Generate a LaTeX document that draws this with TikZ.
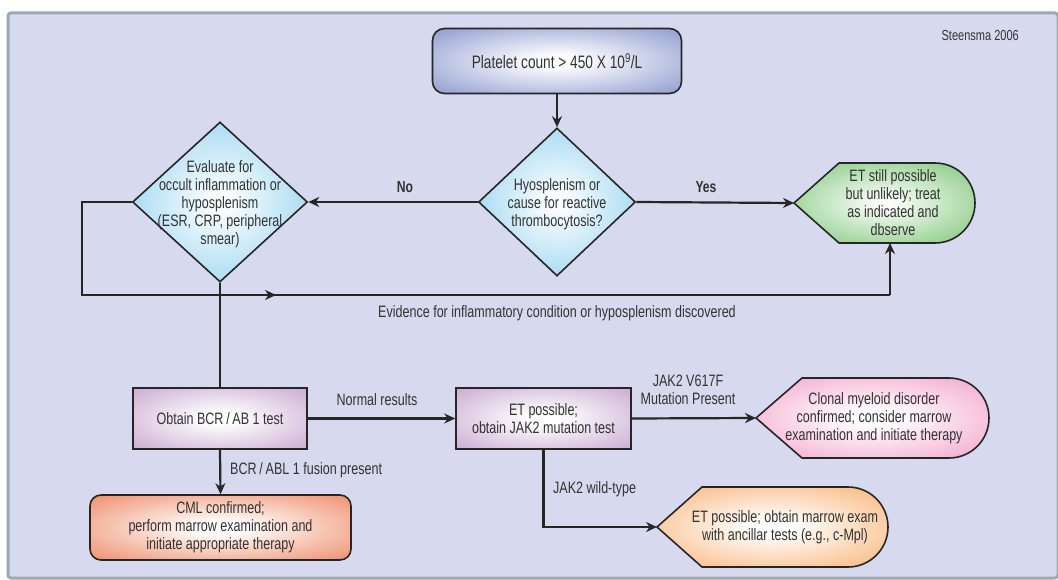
\documentclass[tikz,border=0pt]{standalone}
\usepackage{fontspec}
\setmainfont{Liberation Sans}[FakeStretch=0.76]
\usetikzlibrary{arrows.meta,shapes.geometric}
\definecolor{bg}{HTML}{D7DAEE}
\definecolor{framec}{HTML}{9AAAB0}
\definecolor{cblue}{HTML}{7E8DC8}
\definecolor{ccyan}{HTML}{86CDEE}
\definecolor{cgreen}{HTML}{7CC576}
\definecolor{cpurple}{HTML}{C3A0CB}
\definecolor{cpink}{HTML}{F29CC6}
\definecolor{cred}{HTML}{EE8560}
\definecolor{corange}{HTML}{F8AE6C}
\definecolor{ink}{HTML}{333333}
\pgfdeclareradialshading{gblue}{\pgfpoint{0bp}{0bp}}{color(0bp)=(white);color(4bp)=(white);color(40bp)=(cblue);color(50bp)=(cblue)}
\pgfdeclareradialshading{gcyan}{\pgfpoint{0bp}{0bp}}{color(0bp)=(white);color(4bp)=(white!92!ccyan);color(36bp)=(ccyan);color(50bp)=(ccyan)}
\pgfdeclareradialshading{ggreen}{\pgfpoint{0bp}{0bp}}{color(0bp)=(white);color(4bp)=(white!92!cgreen);color(36bp)=(cgreen);color(50bp)=(cgreen)}
\pgfdeclareradialshading{gpurple}{\pgfpoint{0bp}{0bp}}{color(0bp)=(white);color(4bp)=(white);color(40bp)=(cpurple);color(50bp)=(cpurple)}
\pgfdeclareradialshading{gpink}{\pgfpoint{0bp}{0bp}}{color(0bp)=(white);color(4bp)=(white);color(38bp)=(cpink);color(50bp)=(cpink)}
\pgfdeclareradialshading{gred}{\pgfpoint{0bp}{0bp}}{color(0bp)=(white);color(4bp)=(white);color(38bp)=(cred);color(50bp)=(cred)}
\pgfdeclareradialshading{gorange}{\pgfpoint{0bp}{0bp}}{color(0bp)=(white);color(4bp)=(white);color(38bp)=(corange);color(50bp)=(corange)}
\tikzset{
  txt/.style={text=ink,font=\fontsize{16.5}{18}\selectfont,align=center,inner sep=0pt},
  lbl/.style={text=ink,font=\fontsize{16.5}{18}\selectfont,align=center,inner sep=0pt},
  bold/.style={text=ink,font=\fontsize{16}{18}\selectfont\bfseries,inner sep=0pt},
  shapeline/.style={draw=black!85,line width=1.6pt},
  dia/.style={diamond,shapeline,shading=gcyan,inner sep=0pt},
  rbox/.style={rectangle,shapeline,shading=gpurple,inner sep=0pt},
  conn/.style={draw=black!85,line width=2.2pt},
  arr/.style={conn,-{Stealth[length=11pt,width=10pt]}}
}
\begin{document}
\begin{tikzpicture}[x=1pt,y=-1pt]
\useasboundingbox (0,0) rectangle (1058,580);
\fill[white] (0,0) rectangle (1058,580);
\draw[fill=bg,draw=framec,line width=3pt,rounded corners=3pt] (8,13) rectangle (1058,578);
\node[txt,font=\fontsize{14.5}{16}\selectfont,anchor=east] (src) at (1019,36) {Steensma 2006};
% top box
\node[shapeline,shading=gblue,rounded corners=12pt,minimum width=249pt,minimum height=65pt,inner sep=0pt] (top) at (557,61) {};
\node[txt,font=\fontsize{18}{20}\selectfont] (topt) at (top) {Platelet count > 450 X 10\textsuperscript{9}/L};
% diamonds
\node[dia,minimum width=157pt,minimum height=148pt] (d2) at (557,202) {};
\node[txt] (d2t) at (557,204) {Hyosplenism or\\cause for reactive\\thrombocytosis?};
\node[dia,minimum width=175pt,minimum height=160pt] (d1) at (220,202) {};
\node[txt] (d1t) at (220,204) {Evaluate for\\occult inflammation or\\hyposplenism\\(ESR, CRP, peripheral\\smear)};
% green end shape
\shade[shading=ggreen] (794,203) -- (839,163) -- (935,163) arc[start angle=-90,end angle=90,radius=40] -- (839,243) -- cycle;
\draw[shapeline] (794,203) -- (839,163) -- (935,163) arc[start angle=-90,end angle=90,radius=40] -- (839,243) -- cycle;
\coordinate (gtip) at (794,203);
\coordinate (gbot) at (890,243);
\node[txt] (gt) at (893,203) {ET still possible\\but unlikely; treat\\as indicated and\\dbserve};
% purple boxes
\node[rbox,minimum width=174pt,minimum height=61pt] (bcr) at (220,418.5) {};
\node[txt] (bcrt) at (bcr) {Obtain BCR\,/\,AB 1 test};
\node[rbox,minimum width=175pt,minimum height=61pt] (et) at (543.5,418.5) {};
\node[txt] (ett) at (et) {ET possible;\\obtain JAK2 mutation test};
% CML box
\node[shapeline,shading=gred,rounded corners=11pt,minimum width=261pt,minimum height=65pt,inner sep=0pt] (cml) at (220.5,527.5) {};
\node[txt] (cmlt) at (cml) {CML confirmed;\\perform marrow examination and\\initiate appropriate therapy};
% pink end shape
\shade[shading=gpink] (756,418) -- (802,378) -- (949,378) arc[start angle=-90,end angle=90,radius=40] -- (802,458) -- cycle;
\draw[shapeline] (756,418) -- (802,378) -- (949,378) arc[start angle=-90,end angle=90,radius=40] -- (802,458) -- cycle;
\coordinate (ptip) at (756,418);
\node[txt] (pt) at (874,418) {Clonal myeloid disorder\\confirmed; consider marrow\\examination and initiate therapy};
% orange end shape
\shade[shading=gorange] (657,527) -- (702,487) -- (848,487) arc[start angle=-90,end angle=90,radius=40] -- (702,567) -- cycle;
\draw[shapeline] (657,527) -- (702,487) -- (848,487) arc[start angle=-90,end angle=90,radius=40] -- (702,567) -- cycle;
\coordinate (otip) at (657,527);
\node[txt] (ot) at (785,527) {ET possible; obtain marrow exam\\with ancillar tests (e.g., c-Mpl)};
% connectors
\draw[arr] (top.south) -- (d2.north);
\draw[arr] (d2.west) -- (d1.east);
\node[bold] (no) at (405,187) {No};
\draw[arr] (d2.east) -- (gtip);
\node[bold] (yes) at (706,187) {Yes};
\coordinate (lpA) at (82,295);
\coordinate (lpM) at (276,295);
\coordinate (lpB) at (890,295);
\draw[conn] (d1.west) -| (lpA) -- (lpB);
\draw[arr] (lpA) -- (lpM);
\draw[arr] (lpB) -- (gbot);
\node[lbl] (evid) at (557,313) {Evidence for inflammatory condition or hyposplenism discovered};
\draw[conn] (d1.south) -- (bcr.north);
\draw[arr] (bcr.east) -- (et.west);
\node[lbl] (norm) at (377,400) {Normal results};
\draw[arr] (bcr.south) -- (cml.north);
\node[lbl,anchor=west] (fus) at (230,470) {BCR\,/\,ABL 1 fusion present};
\draw[arr] (et.east) -- (ptip);
\node[lbl] (jak) at (688,390) {JAK2 V617F\\Mutation Present};
\draw[arr] (et.south) |- (otip);
\node[lbl,anchor=west] (wild) at (553,489) {JAK2 wild-type};
\end{tikzpicture}
\end{document}
